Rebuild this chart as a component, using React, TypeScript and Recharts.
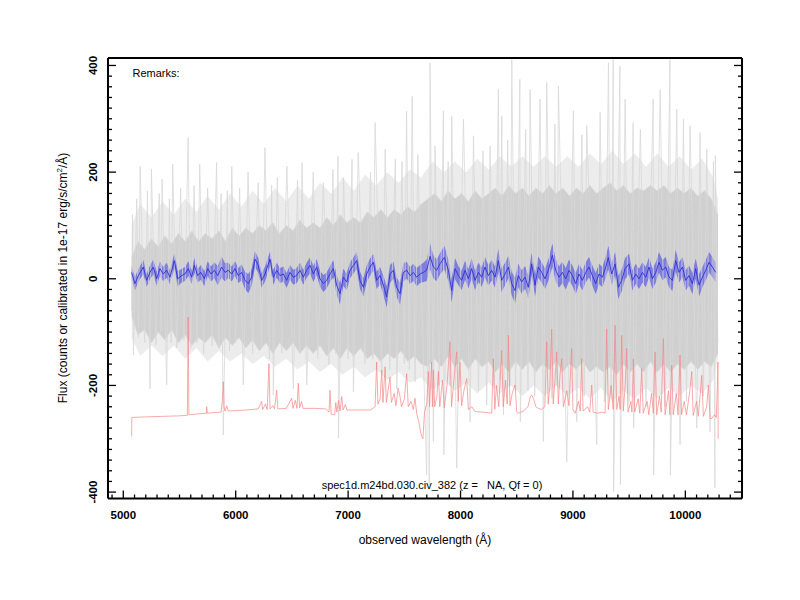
import React from "react";
import { Area, ComposedChart, Line, XAxis, YAxis } from "recharts";

// wavelength (Å), smoothed flux, 1-sigma half width of the shaded band
const smoothFlux: [number, number, number][] = [
  [5074, 12, 12], [5104, -9, 13], [5134, 6, 12], [5178, 22, 13], [5208, -3, 12],
  [5237, 12, 13], [5267, 22, 14], [5297, 0, 13], [5326, 19, 14], [5356, 9, 13],
  [5386, 16, 14], [5415, 3, 13], [5454, 34, 14], [5484, 0, 14], [5519, 6, 13],
  [5549, 9, 13], [5579, 19, 14], [5608, 3, 13], [5632, 25, 14], [5662, 6, 13],
  [5691, 12, 14], [5721, 0, 14], [5751, 19, 14], [5780, 9, 14], [5810, 16, 15],
  [5840, 6, 18], [5875, 22, 20], [5905, 12, 17], [5934, 16, 14], [5964, 9, 14],
  [5994, 19, 14], [6023, 6, 14], [6053, 12, 15], [6083, -3, 16], [6112, -9, 18],
  [6142, 3, 16], [6172, 37, 15], [6201, 25, 14], [6231, -3, 14], [6261, 9, 14],
  [6305, 37, 14], [6335, 3, 14], [6365, 16, 14], [6394, 6, 14], [6424, 9, 14],
  [6453, -3, 14], [6483, 12, 14], [6513, 3, 14], [6542, 6, 14], [6572, 16, 14],
  [6602, 3, 14], [6631, 16, 14], [6661, 25, 15], [6691, 9, 15], [6720, 22, 15],
  [6750, 0, 15], [6780, -9, 16], [6809, -3, 15], [6839, 9, 15], [6869, 19, 16],
  [6898, -12, 18], [6928, -28, 20], [6958, 3, 16], [6987, -6, 16], [7017, 16, 15],
  [7047, 25, 15], [7076, 34, 16], [7106, -3, 16], [7136, -16, 17], [7165, 9, 16],
  [7195, 22, 16], [7225, 31, 16], [7254, -3, 16], [7284, 6, 16], [7314, -12, 18],
  [7343, -34, 20], [7373, 9, 17], [7403, 16, 16], [7432, -16, 18], [7462, -28, 20],
  [7492, 12, 17], [7521, 16, 16], [7551, 6, 16], [7581, 12, 16], [7610, 3, 17],
  [7640, 9, 17], [7670, 12, 18], [7699, 16, 20], [7729, 42, 24], [7759, 22, 22],
  [7788, 16, 20], [7817, 28, 20], [7856, 40, 22], [7892, 16, 20], [7921, -22, 22],
  [7951, 19, 20], [7981, 6, 18], [8010, -3, 18], [8040, 16, 18], [8070, 0, 18],
  [8099, 19, 19], [8129, -3, 18], [8159, 12, 18], [8188, 3, 18], [8218, 22, 19],
  [8248, 6, 19], [8277, 16, 19], [8307, 3, 20], [8337, 34, 22], [8366, -3, 22],
  [8396, 9, 21], [8426, 22, 21], [8455, -9, 22], [8485, -22, 24], [8514, 6, 22],
  [8544, -6, 22], [8574, 3, 21], [8603, -16, 22], [8633, 28, 21], [8663, -12, 21],
  [8692, 22, 20], [8722, 12, 19], [8752, 0, 19], [8781, 16, 20], [8817, 44, 22],
  [8847, 16, 21], [8876, 3, 20], [8906, 12, 20], [8936, 0, 20], [8965, 16, 20],
  [8995, 6, 19], [9025, -9, 20], [9054, 9, 19], [9084, -3, 19], [9114, 12, 19],
  [9143, 22, 19], [9173, 6, 19], [9203, -9, 20], [9232, 9, 19], [9262, 3, 19],
  [9292, 22, 20], [9315, 40, 22], [9345, 9, 21], [9375, 28, 22], [9404, -16, 22],
  [9434, -3, 21], [9464, 19, 20], [9499, 28, 19], [9529, -3, 19], [9559, 9, 19],
  [9588, 0, 19], [9618, 12, 19], [9648, 3, 19], [9677, 22, 19], [9707, 0, 19],
  [9737, 12, 19], [9766, 31, 19], [9796, 16, 19], [9826, 22, 19], [9855, 3, 19],
  [9885, -3, 20], [9914, 34, 20], [9944, 12, 19], [9974, 22, 19], [10003, -3, 19],
  [10033, 6, 19], [10063, -9, 20], [10092, 19, 19], [10122, -12, 21], [10152, 3, 19],
  [10181, 16, 19], [10211, 31, 19], [10241, 22, 19], [10270, 12, 18],
];

// dense part of the raw flux: wavelength, low, high
const coreBand: [number, number, number][] = [
  [5075, -70, 40], [5130, -105, 70], [5190, -95, 55], [5250, -120, 75], [5310, -100, 60],
  [5370, -115, 80], [5430, -95, 65], [5490, -120, 85], [5550, -105, 70], [5610, -125, 90],
  [5670, -110, 70], [5730, -120, 85], [5790, -105, 75], [5850, -130, 90], [5910, -110, 70],
  [5970, -125, 95], [6030, -110, 80], [6090, -130, 95], [6150, -115, 85], [6210, -135, 100],
  [6270, -120, 90], [6330, -140, 105], [6390, -120, 85], [6450, -135, 100], [6510, -120, 90],
  [6570, -140, 110], [6630, -125, 95], [6690, -140, 105], [6750, -125, 95], [6810, -145, 115],
  [6870, -130, 100], [6930, -150, 120], [6990, -130, 105], [7050, -145, 115], [7110, -130, 105],
  [7170, -150, 125], [7230, -140, 115], [7290, -155, 130], [7350, -140, 115], [7410, -150, 130],
  [7470, -135, 120], [7530, -155, 135], [7590, -145, 125], [7650, -160, 140], [7710, -165, 150],
  [7770, -150, 160], [7830, -165, 145], [7890, -145, 165], [7950, -165, 150], [8010, -150, 160],
  [8070, -170, 145], [8130, -150, 165], [8190, -165, 150], [8250, -155, 160], [8310, -175, 170],
  [8370, -160, 155], [8430, -175, 175], [8490, -155, 160], [8550, -170, 170], [8610, -155, 155],
  [8670, -175, 170], [8730, -160, 160], [8790, -170, 175], [8850, -155, 160], [8910, -175, 170],
  [8970, -160, 155], [9030, -170, 170], [9090, -155, 160], [9150, -175, 175], [9210, -165, 160],
  [9270, -175, 170], [9330, -165, 180], [9390, -180, 165], [9450, -160, 175], [9510, -175, 160],
  [9570, -160, 170], [9630, -175, 165], [9690, -155, 175], [9750, -175, 165], [9810, -160, 175],
  [9870, -175, 160], [9930, -160, 170], [9990, -170, 160], [10050, -155, 170], [10110, -170, 155],
  [10170, -155, 165], [10230, -165, 150], [10290, -140, 120],
];

// faint outer haze of the raw flux
const hazeBand: [number, number, number][] = [
  [5075, -110, 100], [5150, -145, 140], [5250, -125, 115], [5350, -145, 145], [5450, -125, 120],
  [5550, -150, 150], [5650, -130, 125], [5750, -155, 155], [5850, -135, 130], [5950, -155, 160],
  [6050, -140, 135], [6150, -160, 165], [6250, -145, 140], [6350, -165, 170], [6450, -150, 145],
  [6550, -170, 175], [6650, -155, 150], [6750, -175, 180], [6850, -160, 160], [6950, -180, 190],
  [7050, -165, 165], [7150, -185, 195], [7250, -170, 175], [7350, -190, 200], [7450, -175, 180],
  [7550, -195, 205], [7650, -185, 190], [7750, -210, 220], [7850, -190, 200], [7950, -210, 220],
  [8050, -195, 200], [8150, -215, 225], [8250, -195, 205], [8350, -215, 230], [8450, -200, 210],
  [8550, -220, 230], [8650, -200, 210], [8750, -220, 230], [8850, -200, 210], [8950, -220, 230],
  [9050, -205, 210], [9150, -225, 235], [9250, -205, 215], [9350, -230, 240], [9450, -210, 215],
  [9550, -225, 235], [9650, -205, 210], [9750, -225, 235], [9850, -205, 210], [9950, -220, 230],
  [10050, -200, 205], [10150, -215, 225], [10250, -190, 190], [10290, -150, 150],
];

// raw flux spikes (wavelength, flux)
const greySpikes: [number, number][] = [
  [5074, -60], [5082, 120], [5090, -143], [5120, 150], [5135, -110], [5150, 211], [5190, -120],
  [5215, 165], [5238, -206], [5250, 206], [5290, -125], [5320, 160], [5335, -100], [5345, 187],
  [5386, -199], [5410, 150], [5425, -120], [5440, 215], [5475, -130], [5510, 170], [5540, -115],
  [5577, 265], [5600, -130], [5630, 175], [5655, -120], [5680, 215], [5715, -140], [5750, 170],
  [5790, -125], [5830, 218], [5850, -130], [5870, 160], [5890, -293], [5925, 165], [5945, -135],
  [5965, 211], [6000, -120], [6035, 170], [6068, -199], [6110, 200], [6150, -140], [6200, 180],
  [6230, -130], [6260, 246], [6300, -150], [6320, 175], [6335, -218], [6370, 190], [6410, -140],
  [6455, 211], [6513, -206], [6550, 185], [6570, -140], [6590, 218], [6632, -199], [6690, 200],
  [6730, -150], [6780, 180], [6830, -160], [6865, 205], [6890, -140], [6910, 230], [6914, -299],
  [6960, 190], [7000, -150], [7035, 224], [7047, -212], [7090, 237], [7150, -160], [7200, 200],
  [7220, -150], [7240, 293], [7299, -174], [7330, 243], [7370, -170], [7420, 224], [7433, -206],
  [7480, 220], [7500, -160], [7520, 314], [7545, -170], [7570, 342], [7596, -193], [7620, 233],
  [7699, -368], [7715, 150], [7722, -386], [7729, 405], [7759, -305], [7773, 249], [7810, -200],
  [7848, 315], [7852, -330], [7890, 220], [7905, -200], [7922, 305], [7966, -355], [8026, 299],
  [8085, -268], [8115, 268], [8160, -210], [8200, 240], [8233, -237], [8263, 249], [8300, -200],
  [8337, 355], [8350, -190], [8367, 305], [8382, -255], [8420, 260], [8440, -200], [8456, 411],
  [8490, -210], [8528, 374], [8532, -268], [8580, 280], [8600, -210], [8619, 355], [8660, -220],
  [8708, 337], [8737, -305], [8767, 368], [8812, -224], [8840, 290], [8855, -200], [8871, 361],
  [8945, -343], [9004, 315], [9034, -268], [9080, 270], [9100, -220], [9123, 287], [9212, -311],
  [9242, 312], [9280, -230], [9316, 405], [9340, -220], [9358, 411], [9362, -399], [9418, 399],
  [9422, -386], [9464, 337], [9500, -230], [9536, 293], [9540, -280], [9600, 280], [9650, -240],
  [9714, 337], [9718, -368], [9776, 355], [9820, -240], [9863, 411], [9867, -368], [9924, 318],
  [9953, -311], [9983, 299], [10010, -230], [10042, 287], [10102, -280], [10131, 274],
  [10160, -220], [10191, 243], [10220, -287], [10250, 220], [10263, -392], [10267, 231],
  [10290, -120],
];

// sky spectrum, offset below the object
const skyLine: [number, number][] = [
  [5074, -296], [5076, -260], [5200, -259], [5350, -258], [5500, -257], [5570, -256], [5577, -72],
  [5584, -255], [5740, -252], [5742, -240], [5746, -252], [5870, -250], [5880, -230], [5890, -193],
  [5897, -240], [5905, -248], [5920, -238], [5935, -248], [6100, -246], [6200, -244], [6231, -230],
  [6240, -245], [6265, -235], [6280, -245], [6296, -159], [6305, -244], [6330, -238], [6345, -244],
  [6365, -209], [6375, -244], [6450, -243], [6498, -224], [6510, -243], [6530, -228], [6545, -243],
  [6557, -196], [6568, -242], [6585, -230], [6600, -243], [6700, -243], [6800, -244], [6830, -250],
  [6839, -209], [6850, -254], [6880, -255], [6890, -232], [6900, -250], [6915, -228], [6928, -248],
  [6943, -221], [6955, -246], [6975, -236], [6990, -246], [7100, -246], [7200, -246], [7240, -240],
  [7254, -156], [7265, -235], [7285, -225], [7299, -171], [7310, -232], [7329, -165], [7340, -232],
  [7355, -210], [7373, -184], [7385, -232], [7410, -215], [7425, -238], [7445, -205], [7462, -221],
  [7475, -240], [7500, -225], [7521, -178], [7535, -240], [7560, -230], [7580, -245], [7595, -224],
  [7610, -252], [7630, -270], [7650, -293], [7665, -300], [7680, -250], [7700, -235], [7714, -174],
  [7725, -240], [7743, -156], [7750, -240], [7759, -171], [7770, -240], [7790, -220], [7803, -174],
  [7815, -240], [7840, -190], [7855, -242], [7880, -200], [7906, -118], [7920, -240], [7945, -180],
  [7966, -137], [7980, -230], [7995, -156], [8010, -238], [8030, -210], [8055, -187], [8070, -245],
  [8100, -240], [8129, -249], [8200, -250], [8277, -252], [8292, -150], [8305, -245], [8320, -200],
  [8340, -240], [8366, -134], [8380, -240], [8400, -190], [8415, -235], [8426, -106], [8440, -238],
  [8460, -215], [8485, -199], [8500, -250], [8514, -252], [8560, -248], [8600, -240], [8620, -222],
  [8633, -218], [8650, -225], [8670, -240], [8692, -243], [8720, -245], [8750, -240], [8767, -118],
  [8780, -235], [8795, -200], [8811, -94], [8825, -235], [8840, -190], [8856, -137], [8870, -235],
  [8885, -180], [8900, -150], [8915, -240], [8945, -210], [8965, -238], [8989, -131], [9000, -245],
  [9020, -252], [9050, -230], [9065, -248], [9078, -150], [9090, -248], [9130, -240], [9150, -250],
  [9167, -199], [9180, -250], [9220, -252], [9260, -250], [9286, -252], [9300, -94], [9315, -245],
  [9340, -200], [9358, -245], [9375, -87], [9390, -245], [9410, -220], [9420, -245], [9434, -106],
  [9448, -248], [9465, -200], [9478, -131], [9490, -250], [9515, -230], [9525, -250], [9538, -150],
  [9550, -250], [9580, -225], [9595, -252], [9612, -168], [9625, -252], [9660, -230], [9675, -255],
  [9700, -215], [9715, -252], [9731, -137], [9745, -255], [9770, -220], [9785, -250], [9805, -112],
  [9820, -255], [9850, -210], [9862, -255], [9879, -162], [9892, -255], [9920, -215], [9935, -255],
  [9953, -143], [9966, -255], [9990, -230], [10010, -255], [10040, -210], [10057, -174],
  [10070, -256], [10100, -230], [10115, -258], [10146, -181], [10160, -258], [10190, -240],
  [10205, -199], [10220, -262], [10235, -262], [10260, -255], [10275, -260], [10285, -200],
  [10290, -156], [10292, -300],
];

const xTicks = [
  4900, 5000, 5100, 5200, 5300, 5400, 5500, 5600, 5700, 5800, 5900, 6000, 6100, 6200, 6300, 6400,
  6500, 6600, 6700, 6800, 6900, 7000, 7100, 7200, 7300, 7400, 7500, 7600, 7700, 7800, 7900, 8000,
  8100, 8200, 8300, 8400, 8500, 8600, 8700, 8800, 8900, 9000, 9100, 9200, 9300, 9400, 9500, 9600,
  9700, 9800, 9900, 10000, 10100, 10200, 10300, 10400, 10500,
];
const yTicks = [
  -400, -380, -360, -340, -320, -300, -280, -260, -240, -220, -200, -180, -160, -140, -120, -100,
  -80, -60, -40, -20, 0, 20, 40, 60, 80, 100, 120, 140, 160, 180, 200, 220, 240, 260, 280, 300,
  320, 340, 360, 380, 400,
];

const X_DOMAIN: [number, number] = [4864, 10504];
const Y_DOMAIN: [number, number] = [-412, 414];
const FONT = '"Liberation Sans", Arial, Helvetica, sans-serif';

const blueRows = smoothFlux.map(([w, v, e]) => ({ w, v, band: [v - e, v + e] }));
const coreRows = coreBand.map(([w, lo, hi]) => ({ w, band: [lo, hi] }));
const hazeRows = hazeBand.map(([w, lo, hi]) => ({ w, band: [lo, hi] }));
const spikeRows = greySpikes.map(([w, v]) => ({ w, v }));
const skyRows = skyLine.map(([w, v]) => ({ w, v }));

function BottomTick(props: any) {
  const { x, y, payload } = props;
  const major = payload.value % 1000 === 0;
  return (
    <g>
      <line x1={x} x2={x} y1={y} y2={y - (major ? 8 : 4)} stroke="#000" strokeWidth={1.3} />
      {major && (
        <text x={x} y={y + 20} textAnchor="middle" fontSize={11.5} fontWeight="bold" fontFamily={FONT} fill="#000">
          {payload.value}
        </text>
      )}
    </g>
  );
}

function TopTick(props: any) {
  const { x, y, payload } = props;
  const major = payload.value % 1000 === 0;
  return <line x1={x} x2={x} y1={y} y2={y + (major ? 8 : 4)} stroke="#000" strokeWidth={1.3} />;
}

function LeftTick(props: any) {
  const { x, y, payload } = props;
  const major = payload.value % 200 === 0;
  const lx = x - 11;
  return (
    <g>
      <line x1={x} x2={x + (major ? 8 : 4)} y1={y} y2={y} stroke="#000" strokeWidth={1.3} />
      {major && (
        <text
          x={lx}
          y={y}
          transform={`rotate(-90 ${lx} ${y})`}
          textAnchor="middle"
          fontSize={11.5}
          fontWeight="bold"
          fontFamily={FONT}
          fill="#000"
        >
          {payload.value}
        </text>
      )}
    </g>
  );
}

function RightTick(props: any) {
  const { x, y, payload } = props;
  const major = payload.value % 200 === 0;
  return <line x1={x} x2={x - (major ? 8 : 4)} y1={y} y2={y} stroke="#000" strokeWidth={1.3} />;
}

const frame = { stroke: "#000", strokeWidth: 2 };

function Caption({ x, y, size, rotate, children }: any) {
  return (
    <div
      style={{
        position: "absolute",
        left: x,
        top: y,
        transform: `translate(-50%, -50%)${rotate ? " rotate(-90deg)" : ""}`,
        whiteSpace: "pre",
        fontSize: size,
        fontFamily: FONT,
        color: "#000",
        lineHeight: 1,
      }}
    >
      {children}
    </div>
  );
}

export default function App() {
  return (
    <div style={{ position: "absolute", left: 0, top: 0, width: 800, height: 600, background: "#fff" }}>
      <ComposedChart width={800} height={600} margin={{ top: 38, right: 38, bottom: 81.5, left: 88 }}>
        <XAxis
          xAxisId="b"
          type="number"
          dataKey="w"
          domain={X_DOMAIN}
          allowDataOverflow
          ticks={xTicks}
          interval={0}
          height={20}
          tickSize={0}
          tickMargin={0}
          axisLine={frame}
          tick={(p: any) => <BottomTick {...p} />}
        />
        <XAxis
          xAxisId="t"
          orientation="top"
          type="number"
          domain={X_DOMAIN}
          allowDataOverflow
          ticks={xTicks}
          interval={0}
          height={20}
          tickSize={0}
          tickMargin={0}
          axisLine={frame}
          tick={(p: any) => <TopTick {...p} />}
        />
        <YAxis
          yAxisId="l"
          type="number"
          domain={Y_DOMAIN}
          allowDataOverflow
          ticks={yTicks}
          interval={0}
          width={20}
          tickSize={0}
          tickMargin={0}
          axisLine={frame}
          tick={(p: any) => <LeftTick {...p} />}
        />
        <YAxis
          yAxisId="r"
          orientation="right"
          type="number"
          domain={Y_DOMAIN}
          allowDataOverflow
          ticks={yTicks}
          interval={0}
          width={20}
          tickSize={0}
          tickMargin={0}
          axisLine={frame}
          tick={(p: any) => <RightTick {...p} />}
        />
        <Area
          xAxisId="b"
          yAxisId="l"
          data={hazeRows}
          dataKey="band"
          type="linear"
          fill="#ececec"
          fillOpacity={1}
          stroke="none"
          isAnimationActive={false}
        />
        <Line
          xAxisId="b"
          yAxisId="l"
          data={spikeRows}
          dataKey="v"
          type="linear"
          stroke="#d8d8d8"
          strokeWidth={0.8}
          dot={false}
          isAnimationActive={false}
        />
        <Area
          xAxisId="b"
          yAxisId="l"
          data={coreRows}
          dataKey="band"
          type="linear"
          fill="#d0d0d0"
          fillOpacity={1}
          stroke="#d8d8d8"
          strokeWidth={0.6}
          isAnimationActive={false}
        />
        <Line
          xAxisId="b"
          yAxisId="l"
          data={skyRows}
          dataKey="v"
          type="linear"
          stroke="#f78585"
          strokeWidth={0.7}
          dot={false}
          isAnimationActive={false}
        />
        <Area
          xAxisId="b"
          yAxisId="l"
          data={blueRows}
          dataKey="band"
          type="linear"
          fill="#7474de"
          fillOpacity={0.9}
          stroke="none"
          isAnimationActive={false}
        />
        <Line
          xAxisId="b"
          yAxisId="l"
          data={blueRows}
          dataKey="v"
          type="linear"
          stroke="#3030d4"
          strokeWidth={0.9}
          dot={false}
          isAnimationActive={false}
        />
      </ComposedChart>
      <Caption x={156} y={73} size={11}>Remarks:</Caption>
      <Caption x={432} y={485} size={11}>{"spec1d.m24bd.030.civ_382 (z =   NA, Qf = 0)"}</Caption>
      <Caption x={425} y={540} size={12}>observed wavelength (Å)</Caption>
      <Caption x={62} y={278} size={12} rotate>
        Flux (counts or calibrated in 1e-17 erg/s/cm<sup style={{ fontSize: 8 }}>2</sup>/Å)
      </Caption>
    </div>
  );
}
